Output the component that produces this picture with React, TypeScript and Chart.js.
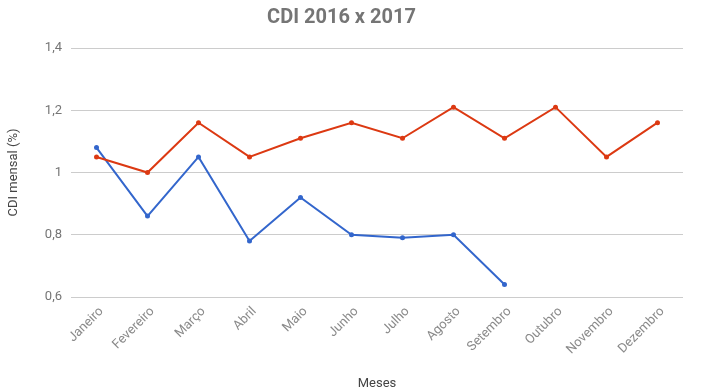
import React, { useEffect, useRef } from "react";
import { Chart, registerables } from "chart.js";

Chart.register(...registerables);

const months = [
  "Janeiro", "Fevereiro", "Março", "Abril", "Maio", "Junho",
  "Julho", "Agosto", "Setembro", "Outubro", "Novembro", "Dezembro",
];
const cdi2016 = [1.05, 1.0, 1.16, 1.05, 1.11, 1.16, 1.11, 1.21, 1.11, 1.21, 1.05, 1.16];
const cdi2017 = [1.08, 0.86, 1.05, 0.78, 0.92, 0.8, 0.79, 0.8, 0.64, null, null, null];
const seriesNames = ["2016", "2017"];
const titleText = "CDI 2016 x 2017";
const yTitle = "CDI mensal (%)";
const xTitle = "Meses";

const FONT = "Roboto, 'Noto Sans', sans-serif";

export default function App() {
  const ref = useRef<HTMLCanvasElement | null>(null);
  useEffect(() => {
    if (!ref.current) return;
    const chart = new Chart(ref.current, {
      type: "line",
      data: {
        labels: months,
        datasets: [
          {
            label: seriesNames[0],
            data: cdi2016,
            borderColor: "#dc3912",
            backgroundColor: "#dc3912",
            borderWidth: 2,
            pointRadius: 2.5,
            pointBorderWidth: 0,
            tension: 0,
            order: 0,
          },
          {
            label: seriesNames[1],
            data: cdi2017,
            borderColor: "#3366cc",
            backgroundColor: "#3366cc",
            borderWidth: 2,
            pointRadius: 2.5,
            pointBorderWidth: 0,
            tension: 0,
            spanGaps: false,
            order: 1,
          },
        ],
      },
      options: {
        responsive: false,
        animation: false,
        layout: { padding: { left: 0, right: 20, top: 0, bottom: 0 } },
        plugins: {
          legend: { display: false },
          tooltip: { enabled: false },
          title: {
            display: true,
            text: titleText,
            color: "#757575",
            font: { family: FONT, size: 20, weight: "bold", lineHeight: 1.2 },
            padding: { top: 6, bottom: 18 },
          },
        },
        scales: {
          x: {
            offset: true,
            grid: { display: false, drawTicks: false },
            border: { display: false },
            ticks: {
              autoSkip: false,
              minRotation: 45,
              maxRotation: 45,
              padding: 7,
              labelOffset: 5,
              color: "#8a8a8a",
              font: { family: FONT, size: 13 },
            },
            title: {
              display: true,
              text: xTitle,
              color: "#444",
              font: { family: FONT, size: 13 },
              padding: { top: 0, bottom: 0 },
            },
            afterFit: (s: any) => {
              s.height = 95;
            },
          },
          y: {
            min: 0.6,
            max: 1.4,
            grid: { color: "#cccccc", drawTicks: false, lineWidth: 1 },
            border: { display: false },
            ticks: {
              stepSize: 0.2,
              padding: 9,
              color: "#757575",
              font: { family: FONT, size: 13 },
              callback: (v: any) => (Math.round(Number(v) * 10) / 10).toString().replace(".", ","),
            },
            title: {
              display: true,
              text: yTitle,
              color: "#444",
              font: { family: FONT, size: 13 },
              padding: { top: 6, bottom: 0 },
            },
            afterFit: (s: any) => {
              s.width = 71;
            },
          },
        },
      },
    });
    return () => chart.destroy();
  }, []);
  return (
    <div style={{ position: "absolute", left: 0, top: 0, width: 703, height: 392, background: "#fff" }}>
      <canvas ref={ref} width={703} height={392} />
    </div>
  );
}
